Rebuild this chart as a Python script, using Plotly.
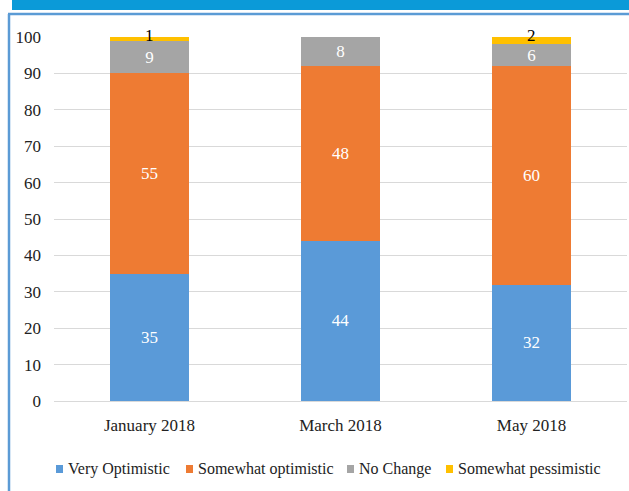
import plotly.graph_objects as go

categories = ["January 2018", "March 2018", "May 2018"]
very_optimistic = [35, 44, 32]
somewhat_optimistic = [55, 48, 60]
no_change = [9, 8, 6]
somewhat_pessimistic = [1, 0, 2]
y_ticks = [0, 10, 20, 30, 40, 50, 60, 70, 80, 90, 100]

series = [
    ("Very Optimistic", very_optimistic, "#5A9AD8"),
    ("Somewhat optimistic", somewhat_optimistic, "#EE7B33"),
    ("No Change", no_change, "#A5A5A5"),
    ("Somewhat pessimistic", somewhat_pessimistic, "#FFC000"),
]

FONT = "Liberation Serif"
LABEL_FONT = dict(color="white", size=17, family=FONT)
fig = go.Figure()
for i, (name, vals, color) in enumerate(series):
    last = i == len(series) - 1
    fig.add_trace(go.Bar(
        name=name, x=categories, y=vals,
        marker=dict(color=color, line=dict(width=0)),
        text=None if last else [str(v) for v in vals],
        textposition="inside", insidetextanchor="middle", textangle=0,
        textfont=LABEL_FONT, insidetextfont=LABEL_FONT,
        constraintext="none",
        hoverinfo="skip", showlegend=False,
    ))

annotations = []
for c, v, a, b, d in zip(categories, very_optimistic, somewhat_optimistic, no_change, somewhat_pessimistic):
    if d > 0:
        annotations.append(dict(
            x=c, y=v + a + b + d, text=str(d), showarrow=False,
            yanchor="middle", yshift=2,
            font=dict(color="black", size=17, family=FONT),
        ))

W, H = 629, 491
L, R, T, B = 54, 2, 37, 90
pw, ph = W - L - R, H - T - B
def px(x):
    return (x - L) / pw
def py(y):
    return (H - B - y) / ph

shapes = [
    dict(type="rect", xref="paper", yref="paper", x0=px(12), x1=px(640), y0=py(10), y1=py(-5),
         fillcolor="#0B9AD8", line=dict(width=0), layer="below"),
    dict(type="line", xref="paper", yref="paper", x0=px(8), x1=px(640), y0=py(14), y1=py(14),
         line=dict(color="#5B9BD5", width=2.5), layer="below"),
    dict(type="line", xref="paper", yref="paper", x0=px(9), x1=px(9), y0=py(14), y1=py(500),
         line=dict(color="#5B9BD5", width=2.5), layer="below"),
]

# legend drawn as swatches + labels (positions in pixels of the page)
legend_icon_x = [56, 186, 347, 446]
legend_y = 469
for (name, _vals, color), ix in zip(series, legend_icon_x):
    shapes.append(dict(type="rect", xref="paper", yref="paper",
                       x0=px(ix), x1=px(ix + 7), y0=py(legend_y + 4), y1=py(legend_y - 4),
                       fillcolor=color, line=dict(width=0)))
    annotations.append(dict(xref="paper", yref="paper", x=px(ix + 10), y=py(legend_y),
                            xanchor="left", yanchor="middle", showarrow=False, text=name,
                            font=dict(size=16, family=FONT, color="#222222")))

fig.update_layout(
    template="none",
    barmode="stack", bargap=0.59,
    width=W, height=H,
    margin=dict(l=L, r=R, t=T, b=B, autoexpand=False),
    paper_bgcolor="white", plot_bgcolor="white",
    font=dict(family=FONT, size=17, color="#222222"),
    showlegend=False,
    annotations=annotations,
    shapes=shapes,
)
fig.update_yaxes(range=[0, 100], tickvals=y_ticks, showgrid=True, gridcolor="#D9D9D9",
                 gridwidth=1, zeroline=True, zerolinecolor="#D9D9D9", zerolinewidth=1,
                 showline=False, ticks="", ticklabelstandoff=12, automargin=False,
                 tickfont=dict(size=17, family=FONT, color="#222222"))
fig.update_xaxes(showgrid=False, showline=False, ticks="", ticklabelstandoff=12, automargin=False,
                 tickfont=dict(size=17, family=FONT, color="#222222"))

fig.write_html("out.html", config={"displayModeBar": False},
               post_script="document.body.style.margin='0';document.body.style.padding='0';")
